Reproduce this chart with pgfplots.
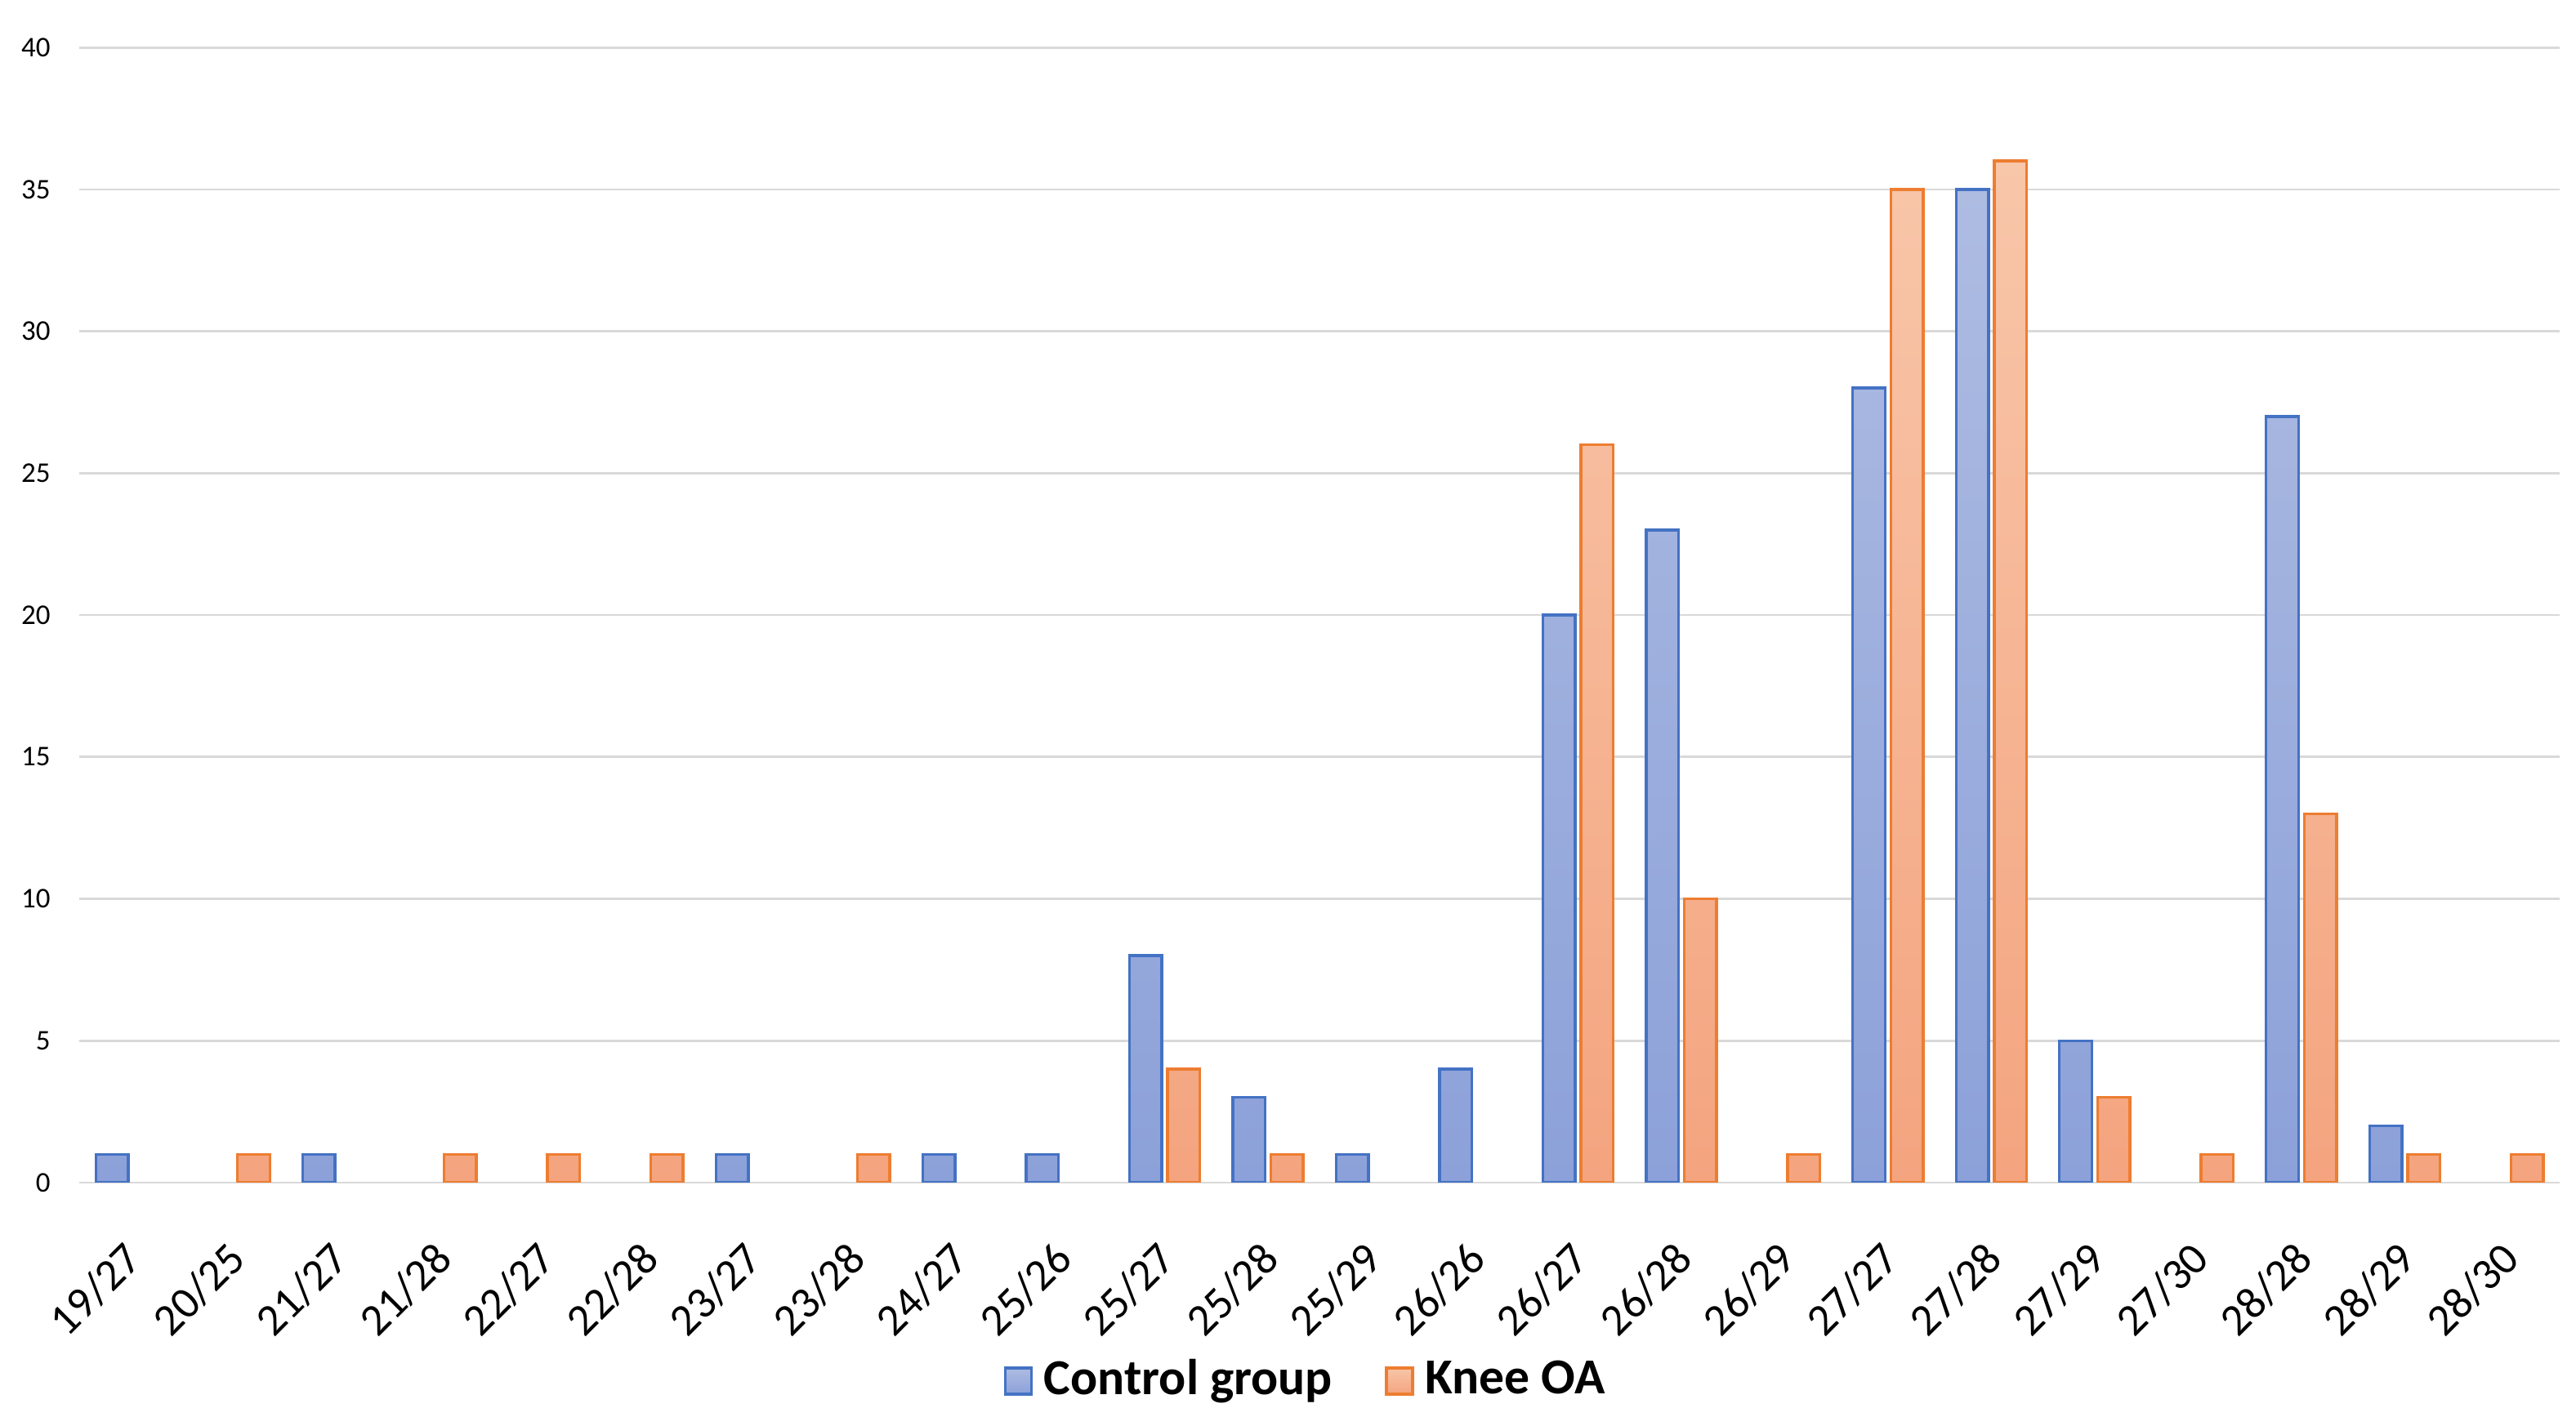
\documentclass[border=0pt]{standalone}
\usepackage{fontspec}
\setmainfont{Carlito}
\usepackage{pgfplots}
\pgfplotsset{compat=1.18}
\definecolor{ctrlline}{HTML}{4472C4}
\definecolor{ctrltop}{HTML}{AEBCE2}
\definecolor{ctrlbot}{HTML}{8CA1D9}
\definecolor{oaline}{HTML}{ED7D31}
\definecolor{oatop}{HTML}{F8C6A9}
\definecolor{oabot}{HTML}{F4A47F}
\definecolor{gridgray}{HTML}{D9D9D9}

% categories: 0 19/27, 1 20/25, 2 21/27, 3 21/28, 4 22/27, 5 22/28, 6 23/27, 7 23/28,
% 8 24/27, 9 25/26, 10 25/27, 11 25/28, 12 25/29, 13 26/26, 14 26/27, 15 26/28,
% 16 26/29, 17 27/27, 18 27/28, 19 27/29, 20 27/30, 21 28/28, 22 28/29, 23 28/30
\begin{document}
\begin{tikzpicture}
\begin{axis}[
  name=main,
  scale only axis,
  width=443pt, height=202.8pt,
  xmin=-0.5, xmax=23.5,
  ymin=0, ymax=40,
  ytick={0,5,...,40},
  xtick={0,...,23},
  xticklabels={19/27,20/25,21/27,21/28,22/27,22/28,23/27,23/28,24/27,25/26,25/27,25/28,25/29,26/26,26/27,26/28,26/29,27/27,27/28,27/29,27/30,28/28,28/29,28/30},
  axis line style={draw=none},
  tick style={draw=none},
  ymajorgrids,
  major grid style={draw=gridgray, line width=0.4pt},
  /pgf/number format/assume math mode=true,
  yticklabel style={font=\fontsize{5.1}{6}\selectfont, inner sep=0pt, xshift=-5pt},
  xticklabel style={font=\fontsize{8}{9}\selectfont, inner sep=0pt, xshift=-1.6pt, yshift=-5.6pt, rotate=45, anchor=north east},
  ybar,
  bar width=5.8pt,
  legend style={at={(0.4962,0)}, anchor=center, yshift=-35.5pt, draw=none,
    font=\fontsize{9}{11}\selectfont\bfseries, column sep=0pt,
    /tikz/every even column/.append style={column sep=7.4pt}},
  legend columns=2,
  legend image code/.code={\draw[#1] (0pt,-2.3pt) rectangle (4.7pt,2.4pt);},
]
\addplot[bar shift=-3.4pt, draw=ctrlline, line width=0.5pt, top color=ctrltop, bottom color=ctrlbot]
  coordinates {(0,1) (2,1) (6,1) (8,1) (9,1) (10,8) (11,3) (12,1) (13,4) (14,20) (15,23) (17,28) (18,35) (19,5) (21,27) (22,2)};
\addlegendentry{Control group}
\addplot[bar shift=3.4pt, draw=oaline, line width=0.5pt, top color=oatop, bottom color=oabot]
  coordinates {(1,1) (3,1) (4,1) (5,1) (7,1) (10,4) (11,1) (14,26) (15,10) (16,1) (17,35) (18,36) (19,3) (20,1) (21,13) (22,1) (23,1)};
\addlegendentry{Knee OA}
\end{axis}
\path (main.south west) ++(-14.2pt,-40.7pt) coordinate (bbsw);
\path (main.north east) ++(2.9pt,8.5pt) coordinate (bbne);
\path (bbsw) rectangle (bbne);
\end{tikzpicture}
\end{document}
